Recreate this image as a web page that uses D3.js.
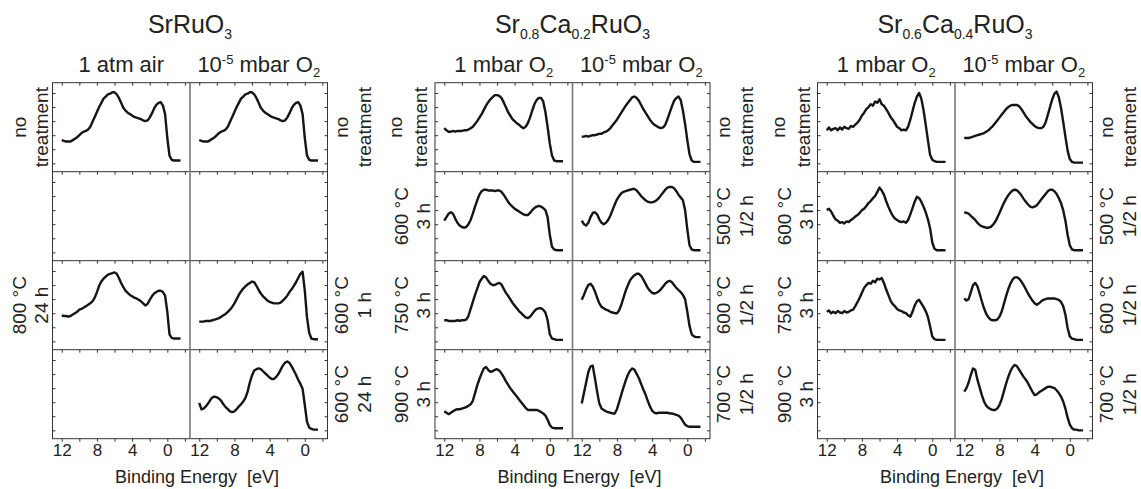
<!DOCTYPE html>
<html>
<head>
<meta charset="utf-8">
<script src="https://cdn.jsdelivr.net/npm/d3@7"></script>
<style>
  body { margin: 0; background: #fff; }
  svg { display: block; }
  text { font-family: "Liberation Sans", Arial, sans-serif; fill: #222; }
</style>
</head>
<body>
<svg id="chart" width="1141" height="489"></svg>
<script>
// Binding energy grid (eV) shared by all valence-band spectra
const energy = [12, 11.75, 11.5, 11.25, 11, 10.75, 10.5, 10.25, 10, 9.75, 9.5, 9.25, 9, 8.75, 8.5, 8.25,
  8, 7.75, 7.5, 7.25, 7, 6.75, 6.5, 6.25, 6, 5.75, 5.5, 5.25, 5, 4.75, 4.5, 4.25, 4, 3.75, 3.5, 3.25,
  3, 2.75, 2.5, 2.25, 2, 1.75, 1.5, 1.25, 1, 0.75, 0.5, 0.25, 0, -0.25, -0.5, -0.75, -1, -1.25, -1.5];

// SrRuO3
const sro_air_none = [.33,.32,.31,.31,.31,.33,.35,.37,.40,.43,.45,.46,.48,.52,.59,.66,.73,.80,.86,.92,.95,.98,.99,1.01,1.01,.98,.93,.86,.79,.75,.72,.70,.68,.66,.65,.64,.63,.61,.60,.61,.65,.71,.78,.83,.86,.87,.82,.70,.36,.11,.05,.04,.04,.04,.04];
const sro_vac_none = [.33,.32,.31,.31,.31,.33,.35,.37,.40,.43,.45,.46,.48,.52,.59,.66,.73,.80,.86,.92,.95,.98,.99,1.01,1.01,.98,.93,.86,.79,.75,.72,.70,.68,.66,.65,.64,.63,.61,.60,.61,.65,.71,.78,.83,.86,.87,.82,.70,.36,.11,.05,.04,.04,.04,.04];
const sro_air_800_24 = [.37,.36,.36,.35,.36,.38,.40,.42,.45,.46,.48,.50,.52,.54,.57,.62,.70,.79,.85,.89,.92,.95,.96,.97,.98,.96,.90,.83,.77,.72,.69,.66,.64,.62,.61,.59,.57,.54,.51,.53,.59,.64,.68,.70,.72,.72,.70,.65,.42,.10,.05,.04,.04,.04,.04];
const sro_vac_600_1 = [.28,.28,.28,.29,.29,.29,.30,.31,.32,.33,.35,.37,.39,.42,.45,.49,.54,.60,.66,.71,.75,.78,.81,.83,.85,.84,.79,.73,.68,.64,.61,.58,.56,.55,.54,.54,.54,.55,.58,.61,.65,.70,.74,.79,.84,.90,.96,.99,.72,.34,.12,.04,.03,.03,.03];
const sro_vac_600_24 = [.39,.30,.31,.34,.38,.43,.47,.48,.47,.45,.42,.37,.33,.30,.27,.26,.27,.30,.34,.37,.41,.46,.55,.68,.78,.85,.87,.88,.87,.84,.81,.78,.75,.73,.73,.76,.80,.86,.92,.96,.98,.96,.91,.85,.79,.72,.66,.59,.36,.12,.04,.02,.01,.01,.01];

// Sr0.8Ca0.2RuO3
const sc2_1mbar_none = [.50,.47,.45,.45,.46,.45,.46,.46,.46,.47,.47,.48,.50,.52,.56,.60,.65,.70,.76,.82,.87,.91,.94,.97,.97,.96,.93,.87,.80,.73,.68,.63,.60,.57,.55,.52,.50,.52,.57,.65,.75,.84,.90,.93,.93,.88,.73,.52,.28,.11,.04,.03,.03,.03,.03];
const sc2_vac_none = [.38,.38,.39,.38,.39,.40,.40,.41,.42,.42,.44,.45,.47,.50,.54,.58,.62,.67,.72,.77,.82,.86,.90,.94,.95,.93,.89,.83,.77,.72,.67,.62,.58,.55,.53,.51,.50,.51,.55,.63,.72,.81,.89,.93,.95,.90,.75,.56,.33,.13,.04,.02,.02,.02,.02];
const sc2_1mbar_600_3 = [.45,.50,.55,.57,.55,.48,.42,.38,.36,.35,.36,.40,.46,.55,.65,.74,.82,.87,.89,.89,.88,.88,.88,.87,.88,.88,.86,.82,.77,.72,.68,.65,.62,.60,.58,.56,.54,.53,.53,.56,.60,.63,.65,.66,.65,.63,.60,.50,.25,.08,.04,.03,.03,.03,.03];
const sc2_vac_500_05 = [.45,.40,.38,.42,.50,.56,.57,.54,.47,.42,.40,.42,.46,.52,.60,.68,.75,.80,.84,.86,.87,.88,.89,.90,.90,.88,.84,.80,.77,.74,.72,.71,.71,.72,.74,.77,.81,.85,.89,.92,.93,.93,.91,.87,.82,.78,.74,.60,.33,.10,.04,.03,.03,.03,.03];
const sc2_1mbar_750_3 = [.30,.30,.29,.29,.29,.29,.30,.29,.30,.30,.31,.36,.46,.56,.66,.75,.84,.89,.93,.91,.86,.82,.80,.80,.82,.83,.81,.75,.69,.65,.60,.55,.51,.47,.43,.40,.37,.34,.33,.35,.39,.43,.46,.47,.47,.45,.41,.30,.10,.04,.03,.02,.02,.02,.02];
const sc2_vac_600_05 = [.59,.66,.74,.80,.82,.78,.71,.62,.54,.49,.47,.45,.44,.42,.41,.40,.40,.44,.52,.62,.72,.80,.87,.91,.94,.96,.96,.93,.88,.82,.76,.72,.69,.68,.69,.71,.74,.78,.82,.85,.86,.84,.80,.76,.73,.70,.66,.60,.42,.22,.10,.07,.06,.06,.06];
const sc2_1mbar_900_3 = [.27,.25,.23,.25,.27,.29,.30,.30,.31,.32,.33,.35,.37,.42,.53,.64,.73,.81,.88,.90,.86,.83,.84,.86,.87,.85,.81,.76,.70,.65,.60,.56,.52,.48,.44,.40,.36,.32,.29,.29,.29,.29,.29,.28,.26,.24,.21,.15,.075,.04,.03,.03,.03,.03,.03];
const sc2_vac_700_05 = [.38,.53,.68,.83,.91,.92,.74,.55,.38,.31,.29,.27,.26,.25,.24,.24,.30,.40,.51,.61,.71,.79,.85,.88,.86,.80,.74,.66,.58,.51,.42,.34,.28,.25,.24,.25,.25,.25,.25,.25,.24,.24,.23,.22,.21,.18,.13,.08,.06,.05,.05,.05,.05,.05,.05];

// Sr0.6Ca0.4RuO3
const sc4_1mbar_none = [.47,.51,.47,.49,.50,.47,.51,.48,.52,.50,.49,.53,.52,.55,.58,.62,.68,.72,.77,.80,.84,.82,.88,.86,.91,.84,.82,.77,.72,.66,.62,.57,.52,.50,.47,.48,.47,.52,.62,.74,.86,.95,1.0,.92,.76,.55,.33,.12,.05,.03,.02,.02,.02,.02,.02];
const sc4_vac_none = [.36,.36,.36,.37,.38,.39,.40,.41,.42,.43,.45,.47,.50,.53,.57,.61,.65,.69,.73,.77,.80,.82,.83,.83,.83,.81,.77,.72,.67,.63,.59,.56,.53,.51,.50,.50,.52,.58,.69,.80,.91,.99,1.02,.94,.79,.59,.38,.18,.06,.02,.01,.01,.01,.01,.01];
const sc4_1mbar_600_3 = [.60,.62,.58,.52,.47,.45,.42,.43,.41,.44,.43,.46,.48,.51,.53,.56,.60,.62,.66,.70,.73,.77,.80,.86,.92,.88,.82,.73,.65,.58,.52,.48,.46,.44,.43,.44,.42,.46,.54,.63,.72,.79,.77,.72,.65,.57,.47,.34,.14,.05,.03,.03,.03,.03,.03];
const sc4_vac_500_05 = [.57,.56,.55,.52,.49,.46,.42,.39,.37,.36,.35,.35,.36,.39,.43,.49,.56,.63,.70,.76,.81,.85,.88,.89,.88,.85,.81,.76,.72,.68,.65,.64,.65,.67,.71,.75,.79,.83,.87,.89,.89,.87,.83,.77,.70,.60,.45,.25,.10,.04,.03,.03,.03,.03,.03];
const sc4_1mbar_750_3 = [.42,.44,.40,.42,.40,.43,.41,.40,.43,.41,.42,.44,.45,.50,.56,.62,.69,.76,.80,.83,.82,.86,.84,.89,.88,.90,.83,.74,.66,.58,.53,.50,.46,.44,.43,.41,.40,.37,.35,.42,.51,.57,.59,.54,.49,.43,.35,.21,.07,.03,.02,.02,.02,.02,.02];
const sc4_vac_600_05 = [.61,.58,.60,.70,.80,.83,.78,.68,.57,.47,.39,.34,.31,.30,.30,.31,.35,.42,.53,.64,.74,.82,.88,.91,.91,.89,.85,.80,.74,.68,.63,.58,.54,.52,.54,.57,.59,.60,.61,.61,.61,.61,.60,.59,.56,.50,.38,.19,.07,.04,.03,.02,.02,.02,.02];
const sc4_vac_700_05 = [.55,.60,.68,.79,.88,.86,.72,.61,.50,.41,.35,.32,.30,.29,.29,.31,.36,.44,.55,.66,.76,.84,.90,.93,.91,.86,.81,.76,.72,.67,.61,.55,.50,.51,.54,.56,.58,.60,.62,.62,.61,.60,.57,.53,.48,.41,.31,.18,.08,.03,.01,.01,0,0,0];

// Compound titles: [text, "sub" | "sup" | ""] segments
const compounds = [
  [["SrRuO", ""], ["3", "sub"]],
  [["Sr", ""], ["0.8", "sub"], ["Ca", ""], ["0.2", "sub"], ["RuO", ""], ["3", "sub"]],
  [["Sr", ""], ["0.6", "sub"], ["Ca", ""], ["0.4", "sub"], ["RuO", ""], ["3", "sub"]]
];
const atmAir = [["1 atm air", ""]];
const mbar1 = [["1 mbar O", ""], ["2", "sub"]];
const mbarVac = [["10", ""], ["-5", "sup"], [" mbar O", ""], ["2", "sub"]];
const columnTitles = [[atmAir, mbarVac], [mbar1, mbarVac], [mbar1, mbarVac]];

// Treatment labels, per compound and row, for the left and right column
const leftLabels = [
  [["no", "treatment"], null, ["800 °C", "24 h"], null],
  [["no", "treatment"], ["600 °C", "3 h"], ["750 °C", "3 h"], ["900 °C", "3 h"]],
  [["no", "treatment"], ["600 °C", "3 h"], ["750 °C", "3 h"], ["900 °C", "3 h"]]
];
const rightLabels = [
  [["no", "treatment"], null, ["600 °C", "1 h"], ["600 °C", "24 h"]],
  [["no", "treatment"], ["500 °C", "1/2 h"], ["600 °C", "1/2 h"], ["700 °C", "1/2 h"]],
  [["no", "treatment"], ["500 °C", "1/2 h"], ["600 °C", "1/2 h"], ["700 °C", "1/2 h"]]
];

// Which spectrum sits in which cell: compound, row, column (0 = left, 1 = right)
const spectra = [
  { compound: 0, row: 0, col: 0, values: sro_air_none },
  { compound: 0, row: 0, col: 1, values: sro_vac_none },
  { compound: 0, row: 2, col: 0, values: sro_air_800_24 },
  { compound: 0, row: 2, col: 1, values: sro_vac_600_1 },
  { compound: 0, row: 3, col: 1, values: sro_vac_600_24 },
  { compound: 1, row: 0, col: 0, values: sc2_1mbar_none },
  { compound: 1, row: 0, col: 1, values: sc2_vac_none },
  { compound: 1, row: 1, col: 0, values: sc2_1mbar_600_3 },
  { compound: 1, row: 1, col: 1, values: sc2_vac_500_05 },
  { compound: 1, row: 2, col: 0, values: sc2_1mbar_750_3 },
  { compound: 1, row: 2, col: 1, values: sc2_vac_600_05 },
  { compound: 1, row: 3, col: 0, values: sc2_1mbar_900_3 },
  { compound: 1, row: 3, col: 1, values: sc2_vac_700_05 },
  { compound: 2, row: 0, col: 0, values: sc4_1mbar_none },
  { compound: 2, row: 0, col: 1, values: sc4_vac_none },
  { compound: 2, row: 1, col: 0, values: sc4_1mbar_600_3 },
  { compound: 2, row: 1, col: 1, values: sc4_vac_500_05 },
  { compound: 2, row: 2, col: 0, values: sc4_1mbar_750_3 },
  { compound: 2, row: 2, col: 1, values: sc4_vac_600_05 },
  { compound: 2, row: 3, col: 1, values: sc4_vac_700_05 }
];

const energyTicks = [12, 8, 4, 0];
const energyMinorTicks = [12, 10, 8, 6, 4, 2, 0, -2];
const intensityTicks = [0, 0.2, 0.4, 0.6, 0.8, 1.0];

// ---- layout ----
const svg = d3.select("#chart");
const groupX0 = 52.5, groupStep = 382.5;
const panelW = 137.5, rowH = 89, plotTop = 82.7, nRows = 4;
const axisColor = "#333";

const x = d3.scaleLinear().domain([13.05, -2.58]).range([0, panelW]);
const y = d3.scaleLinear().domain([-0.119, 1.1465]).range([rowH, 0]);

const line = d3.line()
  .defined(d => d[1] != null)
  .x(d => x(d[0]))
  .y(d => y(d[1]));

function richText(sel, segments, size) {
  const small = Math.round(size * 0.58);
  let shift = 0;
  segments.forEach(([t, kind]) => {
    const target = kind === "sub" ? size * 0.22 : kind === "sup" ? -size * 0.38 : 0;
    sel.append("tspan")
      .attr("dy", target - shift)
      .attr("font-size", kind ? small : size)
      .text(t);
    shift = target;
  });
}

compounds.forEach((title, g) => {
  const gx = groupX0 + g * groupStep;
  const grp = svg.append("g").attr("transform", `translate(${gx},${plotTop})`);

  // compound title and the two atmosphere headings
  richText(svg.append("text").attr("x", gx + panelW).attr("y", 33)
    .attr("text-anchor", "middle"), title, 25);
  columnTitles[g].forEach((ct, c) => {
    richText(svg.append("text").attr("x", gx + panelW * c + panelW / 2).attr("y", 72)
      .attr("text-anchor", "middle"), ct, 22);
  });

  for (let r = 0; r < nRows; r++) {
    for (let c = 0; c < 2; c++) {
      const cell = grp.append("g").attr("transform", `translate(${c * panelW},${r * rowH})`);
      // energy ticks along the top of every cell, pointing inward
      cell.append("g").call(d3.axisBottom(x).tickValues(energyMinorTicks).tickSize(3).tickFormat(""))
        .call(a => a.select(".domain").remove())
        .selectAll("line").attr("stroke", axisColor);
      // intensity ticks on the outer edges
      if (c === 0) {
        cell.append("g").call(d3.axisRight(y).tickValues(intensityTicks).tickSize(3).tickFormat(""))
          .call(a => a.select(".domain").remove())
          .selectAll("line").attr("stroke", axisColor);
      } else {
        cell.append("g").attr("transform", `translate(${panelW},0)`)
          .call(d3.axisLeft(y).tickValues(intensityTicks).tickSize(3).tickFormat(""))
          .call(a => a.select(".domain").remove())
          .selectAll("line").attr("stroke", axisColor);
      }
    }
  }

  // bottom energy axes
  for (let c = 0; c < 2; c++) {
    const ax = grp.append("g").attr("transform", `translate(${c * panelW},${nRows * rowH})`);
    ax.append("g").call(d3.axisBottom(x).tickValues(energyMinorTicks).tickSize(3).tickFormat(""))
      .call(a => a.select(".domain").remove())
      .selectAll("line").attr("stroke", axisColor);
    ax.append("g").call(d3.axisBottom(x).tickValues(energyTicks).tickSize(0).tickPadding(5).tickFormat(d3.format("d")))
      .call(a => a.select(".domain").remove())
      .selectAll("text").attr("font-size", 17).attr("fill", "#222")
      .attr("font-family", "Liberation Sans, Arial, sans-serif");
  }

  // frame, row separators and the column divider
  grp.append("rect").attr("width", panelW * 2).attr("height", nRows * rowH)
    .attr("fill", "none").attr("stroke", axisColor).attr("stroke-width", 1);
  for (let r = 1; r < nRows; r++) {
    grp.append("line").attr("x1", 0).attr("x2", panelW * 2)
      .attr("y1", r * rowH).attr("y2", r * rowH)
      .attr("stroke", axisColor).attr("stroke-width", 1);
  }
  grp.append("line").attr("x1", panelW).attr("x2", panelW)
    .attr("y1", 0).attr("y2", nRows * rowH)
    .attr("stroke", "#777").attr("stroke-width", 1.6);

  // axis title
  svg.append("text").attr("x", gx + panelW + 7).attr("y", 483)
    .attr("text-anchor", "middle").attr("font-size", 18)
    .style("white-space", "pre").text("Binding Energy  [eV]");

  // treatment labels, rotated, on both outer sides
  for (let r = 0; r < nRows; r++) {
    const cy = plotTop + r * rowH + rowH / 2;
    const L = leftLabels[g][r];
    if (L) {
      const offs = (g === 0 || r > 0) ? [-27, -5] : [-33, -8];
      L.forEach((t, i) => {
        svg.append("text")
          .attr("transform", `translate(${gx + offs[i]},${cy}) rotate(-90)`)
          .attr("text-anchor", "middle").attr("font-size", 19).text(t);
      });
    }
    const R = rightLabels[g][r];
    if (R) {
      const rx = gx + panelW * 2;
      const offs = [20, 43];
      R.forEach((t, i) => {
        svg.append("text")
          .attr("transform", `translate(${rx + offs[i]},${cy}) rotate(-90)`)
          .attr("text-anchor", "middle").attr("font-size", 19).text(t);
      });
    }
  }
});

// spectra
spectra.forEach(s => {
  const gx = groupX0 + s.compound * groupStep + s.col * panelW;
  const gy = plotTop + s.row * rowH;
  const pts = energy.map((e, i) => [e, s.values[i]]);
  svg.append("path")
    .attr("transform", `translate(${gx},${gy})`)
    .attr("d", line(pts))
    .attr("fill", "none").attr("stroke", "#151515")
    .attr("stroke-width", 2.4).attr("stroke-linejoin", "round");
});
</script>
</body>
</html>
